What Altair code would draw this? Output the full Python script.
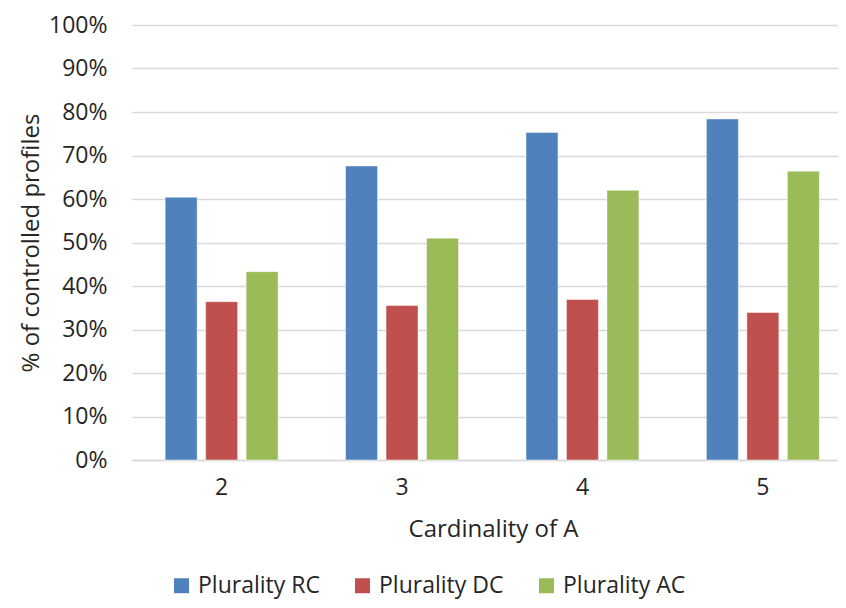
import altair as alt
import pandas as pd

categories = ["2", "3", "4", "5"]
series = ["Plurality RC", "Plurality DC", "Plurality AC"]
rc = [0.604, 0.676, 0.753, 0.784]
dc = [0.364, 0.355, 0.369, 0.339]
ac = [0.433, 0.510, 0.620, 0.664]
colors = ["#4F81BD", "#C0504D", "#9BBB59"]

rows = []
for i, c in enumerate(categories):
    for s, vals in zip(series, [rc, dc, ac]):
        rows.append({"card": c, "series": s, "value": vals[i]})
df = pd.DataFrame(rows)

FONT = "Open Sans"
TXT = "#262626"

chart = alt.Chart(df).mark_bar(stroke="white", strokeOpacity=0.45, strokeWidth=1).encode(
    x=alt.X("card:N", sort=categories,
            scale=alt.Scale(paddingInner=0.374, paddingOuter=0.1436, align=0.64),
            axis=alt.Axis(title="Cardinality of A", labelAngle=0, ticks=False,
                          domainColor="#D9D9D9", domainWidth=1.5,
                          labelPadding=16, titlePadding=18, titleFontSize=24,
                          titleX=361)),
    xOffset=alt.XOffset("series:N", sort=series,
                        scale=alt.Scale(paddingInner=0.21, paddingOuter=0)),
    y=alt.Y("value:Q", scale=alt.Scale(domain=[0, 1]),
            axis=alt.Axis(title="% of controlled profiles", format=".0%",
                          values=[i / 10 for i in range(11)], ticks=False, domain=False,
                          gridColor="#D9D9D9", gridWidth=1.5,
                          labelPadding=25, titlePadding=5, titleFontSize=24)),
    color=alt.Color("series:N", sort=series,
                    scale=alt.Scale(domain=series, range=colors),
                    legend=alt.Legend(title=None, orient="none", direction="horizontal",
                                      legendX=38, legendY=549, symbolType="square",
                                      symbolSize=225, symbolStrokeWidth=0,
                                      labelFontSize=23, labelFont=FONT, labelColor=TXT,
                                      columnPadding=31, labelOffset=5, padding=0)),
).properties(
    width=706, height=435,
    autosize=alt.AutoSizeParams(type="none"),
    padding={"left": 124, "top": 17, "right": 0, "bottom": 140},
).configure_view(stroke=None).configure_axis(
    labelFont=FONT, titleFont=FONT, labelFontSize=23,
    labelColor=TXT, titleColor=TXT, titleFontWeight="normal",
)

chart.save("out.html", embed_options={"renderer": "svg", "actions": False})
